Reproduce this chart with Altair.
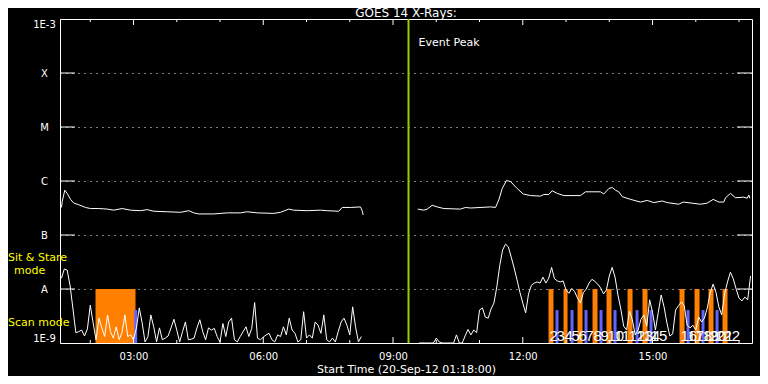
import altair as alt
import pandas as pd

# ---- data (time: decimal hours UT, 20-Sep-2012; flux: log10 W/m^2) ----
long1_h = [1.335, 1.351, 1.411, 1.466, 1.543, 1.619, 1.735, 1.890, 2.005, 2.197,
           2.391, 2.544, 2.738, 2.930, 3.161, 3.316, 3.469, 3.779, 4.086, 4.278,
           4.394, 4.509, 4.856, 5.166, 5.473, 5.628, 5.860, 6.243, 6.398, 6.590,
           6.706, 7.016, 7.323, 7.478, 7.746, 7.825, 8.017, 8.248, 8.287, 8.310]
long1_v = [-6.49, -6.38, -6.17, -6.23, -6.34, -6.41, -6.44, -6.49, -6.51, -6.51,
           -6.52, -6.54, -6.51, -6.54, -6.55, -6.53, -6.56, -6.57, -6.58, -6.55,
           -6.59, -6.61, -6.61, -6.59, -6.59, -6.57, -6.59, -6.60, -6.58, -6.52,
           -6.54, -6.55, -6.54, -6.55, -6.56, -6.49, -6.49, -6.48, -6.55, -6.63]
long2_h = [9.573, 9.712, 9.790, 9.906, 10.021, 10.174, 10.560, 10.676, 10.792, 11.254,
           11.370, 11.446, 11.524, 11.624, 11.716, 11.871, 12.010, 12.179, 12.410, 12.486,
           12.602, 12.680, 12.796, 12.949, 13.335, 13.450, 13.797, 13.873, 13.989, 14.068,
           14.144, 14.220, 14.299, 14.491, 14.722, 14.877, 15.030, 15.224, 15.339, 15.607,
           15.709, 16.109, 16.264, 16.403, 16.532, 16.648, 16.687, 16.803, 16.918, 17.110,
           17.189, 17.226, 17.249]
long2_v = [-6.52, -6.54, -6.52, -6.45, -6.48, -6.51, -6.52, -6.49, -6.50, -6.48,
           -6.49, -6.35, -6.14, -5.99, -6.01, -6.14, -6.24, -6.27, -6.28, -6.25,
           -6.25, -6.18, -6.23, -6.27, -6.27, -6.20, -6.20, -6.24, -6.14, -6.12,
           -6.17, -6.20, -6.29, -6.34, -6.39, -6.36, -6.40, -6.37, -6.40, -6.43,
           -6.39, -6.43, -6.41, -6.34, -6.39, -6.39, -6.31, -6.23, -6.31, -6.30,
           -6.32, -6.26, -6.32]

# short channel, 4-minute cadence
short_step = 4 / 60
short1_start = 1 + 20 / 60
short1_v = [-7.80, -7.63, -7.65, -7.94, -8.37, -8.81, -8.79, -8.76, -8.87, -8.74,
            -8.30, -8.63, -8.94, -8.54, -8.72, -8.88, -8.48, -8.79, -8.91, -8.70,
            -8.94, -8.81, -8.48, -8.88, -8.85, -8.94, -8.72, -8.35, -8.63, -8.98,
            -8.88, -8.48, -8.70, -8.98, -8.72, -8.94, -8.91, -8.87, -8.72, -8.56,
            -8.76, -8.98, -8.79, -8.61, -8.94, -8.93, -8.91, -8.72, -8.57, -8.79,
            -8.94, -8.72, -8.76, -8.73, -8.88, -8.98, -8.64, -8.88, -8.61, -8.54,
            -8.94, -8.98, -8.88, -8.79, -8.70, -8.88, -8.73, -8.25, -8.91, -8.94,
            -8.89, -8.85, -8.82, -8.94, -8.98, -8.85, -8.88, -8.70, -8.85, -8.54,
            -8.76, -8.82, -8.98, -8.94, -8.42, -8.91, -8.85, -8.91, -8.61, -8.67,
            -8.82, -8.48, -8.94, -8.98, -8.91, -8.98, -8.79, -8.61, -8.54, -8.67,
            -8.85, -8.33, -8.70, -8.98, -8.88]
short2_start = 9.6
short2_v = [-9.0, -9.0, -9.0, -9.0, -9.0, -9.0, -8.91, -8.98, -9.0, -9.0,
            -9.0, -9.0, -9.0, -8.85, -9.0, -9.0, -8.87, -8.75, -8.85, -8.76,
            -8.81, -8.39, -8.35, -8.52, -8.54, -8.37, -8.26, -7.96, -7.57, -7.28,
            -7.17, -7.22, -7.41, -7.61, -7.83, -8.06, -8.26, -8.44, -8.09, -7.93,
            -7.89, -7.87, -7.89, -7.78, -7.89, -7.80, -7.60, -7.81, -7.85, -7.87,
            -7.85, -8.02, -8.08, -7.99, -8.05, -8.17, -8.26, -8.07, -8.00, -7.89,
            -7.82, -7.86, -7.91, -7.98, -8.09, -8.02, -7.76, -7.60, -7.78, -8.11,
            -8.37, -8.69, -8.76, -8.41, -8.57, -8.85, -8.76, -8.56, -8.48, -8.69,
            -8.20, -8.43, -8.76, -8.43, -8.11, -8.33, -8.63, -8.87, -8.83, -8.39,
            -8.31, -8.24, -8.31, -8.67, -8.72, -8.67, -8.76, -8.52, -8.61, -8.54,
            -8.35, -8.07, -7.91, -8.06, -8.33, -8.48, -8.09, -7.87, -7.69, -7.81,
            -8.00, -8.17, -8.22, -8.15, -8.20, -7.76]

# observing modes
sit_start = [2.121, 12.595, 12.942, 13.266, 13.613, 13.936, 14.422, 14.768, 15.624, 15.971, 16.295, 16.618]
sit_end = [3.046, 12.710, 13.035, 13.381, 13.728, 14.052, 14.538, 14.884, 15.740, 16.087, 16.410, 16.734]
scan_start = [3.016, 12.757, 13.104, 13.428, 13.775, 14.098, 14.607, 14.931, 15.786, 16.133, 16.457]
scan_end = [3.085, 12.826, 13.173, 13.497, 13.844, 14.168, 14.676, 15.000, 15.856, 16.202, 16.526]
sit_level = -8.0
scan_level = -8.39
floor_level = -9.0

event_peak = 9.358

level_vals = [-9, -8, -7, -6, -5, -4, -3]
level_names = ["1E-9", "A", "B", "C", "M", "X", "1E-3"]
hour_labels = [3, 6, 9, 12, 15]
minor_hours = [2, 4, 5, 7, 8, 10, 11, 13, 14, 16, 17]

# ---- tables ----
long_df = pd.DataFrame({
    "h": long1_h + long2_h,
    "v": long1_v + long2_v,
    "seg": ["a"] * len(long1_h) + ["b"] * len(long2_h),
})
short_df = pd.DataFrame({
    "h": [short1_start + i * short_step for i in range(len(short1_v))]
         + [short2_start + i * short_step for i in range(len(short2_v))],
    "v": short1_v + short2_v,
    "seg": ["a"] * len(short1_v) + ["b"] * len(short2_v),
})
sit_df = pd.DataFrame({"h": sit_start, "h2": sit_end, "v": floor_level, "v2": sit_level})
scan_df = pd.DataFrame({"h": scan_start, "h2": scan_end, "v": floor_level, "v2": scan_level})

right_starts = sorted([s for s in sit_start if s > 10] + [s for s in scan_start if s > 10])
num_df = pd.DataFrame({"h": right_starts, "n": [str(i + 2) for i in range(len(right_starts))]})
event_df = pd.DataFrame({"h": [event_peak], "t": ["Event Peak"]})
lev_df = pd.DataFrame({"v": level_vals[1:-1]})
major_df = pd.DataFrame({"h": hour_labels})
minor_df = pd.DataFrame({"h": minor_hours})
one = pd.DataFrame({"k": [0]})

W, H = 692, 324
FONT = "DejaVu Sans"
xs = alt.Scale(domain=[1.3, 17.3], nice=False, zero=False)
ys = alt.Scale(domain=[-9, -3], nice=False, zero=False)

y_expr = " : ".join(f"datum.value == {v} ? '{n}'" for v, n in zip(level_vals, level_names)) + " : ''"
x_expr = "(datum.value < 10 ? '0' : '') + datum.value + ':00'"

x_axis = alt.Axis(values=hour_labels, labelExpr=x_expr, grid=False, domain=False, ticks=False,
                  labelColor="white", labelFont=FONT, labelFontSize=10, labelPadding=8,
                  title="Start Time (20-Sep-12 01:18:00)", titleColor="white", titleFont=FONT,
                  titleFontSize=11, titleFontWeight="normal", titlePadding=2)
y_axis = alt.Axis(values=level_vals, labelExpr=y_expr, grid=True, gridDash=[1, 5], gridColor="white",
                  gridOpacity=1, domain=False, ticks=False, tickSize=0, labelColor="white",
                  labelFont=FONT, labelFontSize=10, labelAlign="center", labelPadding=16,
                  labelFlush=True, title=None)


def X(f, axis=None):
    if axis is None:
        return alt.X(f, type="quantitative", scale=xs)
    return alt.X(f, type="quantitative", scale=xs, axis=axis)


def Y(f, axis=None):
    if axis is None:
        return alt.Y(f, type="quantitative", scale=ys)
    return alt.Y(f, type="quantitative", scale=ys, axis=axis)


sit = alt.Chart(sit_df).mark_rect(color="#ff8000").encode(x=X("h", x_axis), x2="h2", y=Y("v", y_axis), y2="v2")
scan = alt.Chart(scan_df).mark_rect(color="#6464ff").encode(x=X("h"), x2="h2", y=Y("v"), y2="v2")

long_line = alt.Chart(long_df).mark_line(color="white", strokeWidth=1).encode(
    x=X("h"), y=Y("v"), detail="seg:N")
short_line = alt.Chart(short_df).mark_line(color="white", strokeWidth=1).encode(
    x=X("h"), y=Y("v"), detail="seg:N")

event = alt.Chart(event_df).mark_rule(color="#9acd00", strokeWidth=2).encode(x=X("h"))
event_txt = alt.Chart(event_df).mark_text(align="left", baseline="middle", dx=10, color="white",
                                          font=FONT, fontSize=11).encode(
    x=X("h"), y=alt.value(24), text="t:N")

nums = alt.Chart(num_df).mark_text(align="left", baseline="alphabetic", dx=1, color="white",
                                   font="Liberation Sans", fontSize=15).encode(
    x=X("h"), y=alt.value(322), text="n:N")

lev_l = alt.Chart(lev_df).mark_rule(color="white").encode(y=Y("v"), x=alt.value(0), x2=alt.value(15))
lev_r = alt.Chart(lev_df).mark_rule(color="white").encode(y=Y("v"), x=alt.value(W - 15), x2=alt.value(W))

tk = []
for df, ln in ((major_df, 6), (minor_df, 3)):
    tk.append(alt.Chart(df).mark_rule(color="white").encode(x=X("h"), y=alt.value(0), y2=alt.value(ln)))
    tk.append(alt.Chart(df).mark_rule(color="white").encode(x=X("h"), y=alt.value(H), y2=alt.value(H - ln)))


def side_text(t, x, y):
    return alt.Chart(one).mark_text(align="left", baseline="middle", color="#ffff00", font=FONT,
                                    fontSize=11).encode(x=alt.value(x), y=alt.value(y), text=alt.value(t))


side = [side_text("Sit & Stare", -52, 239), side_text("mode", -46, 252), side_text("Scan mode", -52, 304)]

chart = alt.layer(
    sit, scan, long_line, short_line, event, event_txt, nums, lev_l, lev_r, *tk, *side
).properties(
    width=W, height=H,
    title=alt.TitleParams("GOES 14 X-Rays:", color="white", font=FONT, fontSize=12,
                          fontWeight="normal", anchor="middle", offset=-2),
    autosize=alt.AutoSizeParams(type="none"),
    padding={"left": 52, "top": 11, "right": 8, "bottom": 33},
).configure(background="black").configure_view(stroke="white", strokeWidth=1)

chart.save("out.html", embed_options={"renderer": "svg", "actions": False})
